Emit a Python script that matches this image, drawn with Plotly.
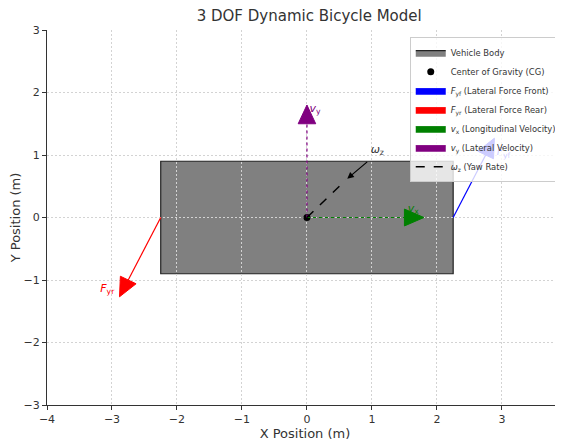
import math
import plotly.graph_objects as go

# ---- data ----
body_x = [-2.25, 2.25]
body_y = [-0.9, 0.9]
cg = [0.0, 0.0]

# arrows: start x, start y, dx, dy
fyf = [2.25, 0.0, 0.5, 1.0]
fyr = [-2.25, 0.0, -0.5, -1.0]
vx = [0.0, 0.0, 1.5, 0.0]
vy = [0.0, 0.0, 0.0, 1.5]
omega_line_x = [0.0, 0.6]
omega_line_y = [0.0, 0.6]
omega_arrow_tail = [0.95, 0.91]
omega_arrow_tip = [0.62, 0.62]

labels_text = ["<i>v</i><sub>y</sub>", "<i>v</i><sub>x</sub>", "<i>F</i><sub>yr</sub>",
               "<i>F</i><sub>yf</sub>", "<i>ω</i><sub>z</sub>"]
labels_x = [0.04, 1.55, -3.18, 2.92, 0.98]
labels_y = [1.74, 0.13, -1.14, 1.04, 1.08]
labels_color = ["purple", "green", "red", "blue", "#333333"]

HL = 0.3   # head length
HW = 0.27  # head width

FONT = "DejaVu Sans"

fig = go.Figure()

# vehicle body (drawn as shape below grid) + legend entry
fig.add_shape(type="rect", x0=body_x[0], x1=body_x[1], y0=body_y[0], y1=body_y[1],
              fillcolor="#808080", line=dict(color="#222222", width=1.2), layer="below")
fig.add_trace(go.Scatter(x=[None], y=[None], mode="lines", fill="toself",
                         fillcolor="#808080", line=dict(color="#222222", width=1.2),
                         name="Vehicle Body"))

fig.add_trace(go.Scatter(x=[cg[0]], y=[cg[1]], mode="markers",
                         marker=dict(color="black", size=7),
                         name="Center of Gravity (CG)"))


def add_arrow(a, color, name, dash):
    x0, y0, dx, dy = a
    L = math.hypot(dx, dy)
    ux, uy = dx / L, dy / L
    bx, by = x0 + dx, y0 + dy
    tx, ty = bx + HL * ux, by + HL * uy
    px, py = -uy, ux
    lx, ly = bx + px * HW / 2, by + py * HW / 2
    rx, ry = bx - px * HW / 2, by - py * HW / 2
    fig.add_trace(go.Scatter(x=[x0, bx], y=[y0, by], mode="lines",
                             line=dict(color=color, width=1.2, dash=dash),
                             showlegend=False, hoverinfo="skip"))
    fig.add_trace(go.Scatter(x=[lx, tx, rx, lx], y=[ly, ty, ry, ly], mode="lines",
                             fill="toself", fillcolor=color,
                             line=dict(color=color, width=1), name=name))


add_arrow(fyf, "blue", "<i>F</i><sub>yf</sub> (Lateral Force Front)", "solid")
add_arrow(fyr, "red", "<i>F</i><sub>yr</sub> (Lateral Force Rear)", "solid")
add_arrow(vx, "green", "<i>v</i><sub>x</sub> (Longitudinal Velocity)", "dot")
add_arrow(vy, "purple", "<i>v</i><sub>y</sub> (Lateral Velocity)", "dot")

fig.add_trace(go.Scatter(x=omega_line_x, y=omega_line_y, mode="lines",
                         line=dict(color="black", width=1.5, dash="dash"),
                         name="<i>ω</i><sub>z</sub> (Yaw Rate)"))

fig.add_annotation(x=omega_arrow_tip[0], y=omega_arrow_tip[1],
                   ax=omega_arrow_tail[0], ay=omega_arrow_tail[1],
                   axref="x", ayref="y", xref="x", yref="y", text="",
                   showarrow=True, arrowhead=2, arrowsize=1.1, arrowwidth=1.2,
                   arrowcolor="black", standoff=0)

for t, x, y, c in zip(labels_text, labels_x, labels_y, labels_color):
    fig.add_trace(go.Scatter(x=[x], y=[y], mode="text", text=[t],
                             textposition="middle right",
                             textfont=dict(color=c, size=11, family=FONT),
                             showlegend=False, hoverinfo="skip"))

axis_common = dict(showgrid=True, gridcolor="#d3d3d3", griddash="2px,2px", gridwidth=0.7,
                   showline=True, linecolor="#333333", linewidth=1, ticks="outside",
                   ticklen=4, tickcolor="#333333", zeroline=False, mirror=False,
                   automargin=False,
                   tickfont=dict(size=11, family=FONT, color="#333333"))

# page body has an 8px default margin, so the figure is offset to line up with the window
fig.update_layout(
    width=563, height=433,
    margin=dict(l=39, r=8, t=22, b=36),
    paper_bgcolor="white", plot_bgcolor="white",
    font=dict(family=FONT, color="#333333"),
    title=dict(text="3 DOF Dynamic Bicycle Model", x=0.535, xanchor="center",
               y=0.981, yanchor="middle", font=dict(size=15, family=FONT, color="#333333")),
    xaxis=dict(range=[-4, 3.94], dtick=1, tick0=-4,
               title=dict(text="X Position (m)", font=dict(size=13, family=FONT), standoff=2),
               **axis_common),
    yaxis=dict(range=[-3, 3], dtick=1,
               title=dict(text="Y Position (m)", font=dict(size=13, family=FONT), standoff=8),
               **axis_common),
    legend=dict(x=0.703, y=0.981, xanchor="left", yanchor="top",
                bgcolor="rgba(255,255,255,0.8)", bordercolor="#cccccc", borderwidth=1,
                font=dict(size=8.4, family=FONT, color="#333333"),
                itemwidth=30, tracegroupgap=0),
    showlegend=True,
)

fig.write_html("out.html")
